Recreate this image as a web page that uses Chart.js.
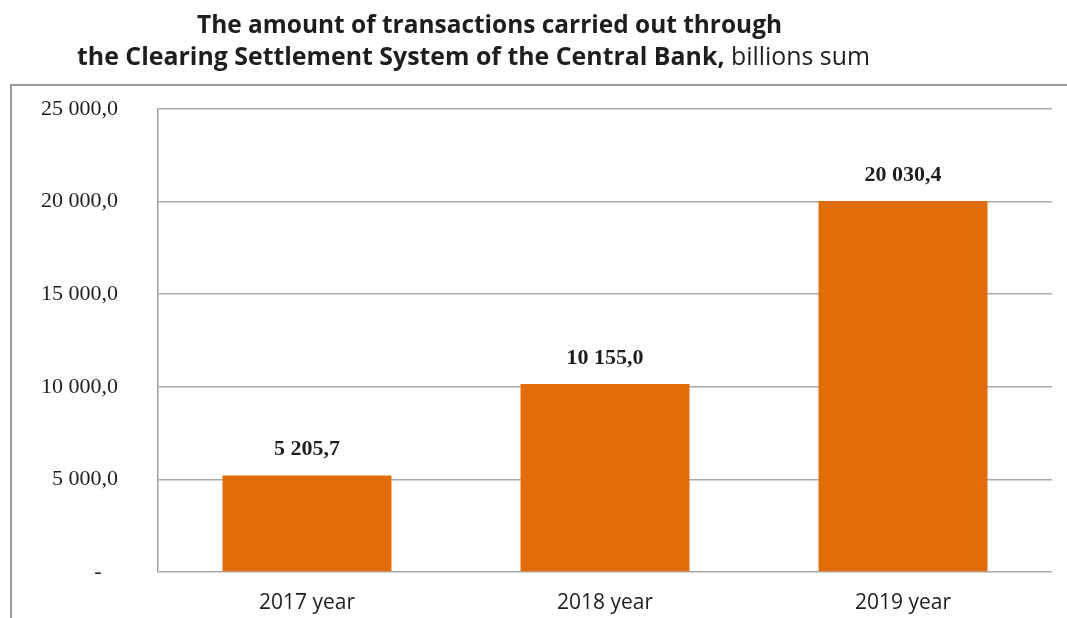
<!DOCTYPE html>
<html>
<head>
<meta charset="utf-8">
<script src="https://cdn.jsdelivr.net/npm/chart.js@4"></script>
<style>
  html, body { margin: 0; padding: 0; background: #fff; }
  #wrap { width: 1067px; height: 618px; }
</style>
</head>
<body>
<div id="wrap"><canvas id="cbank" width="1067" height="618"></canvas></div>
<script>
// CSS transactions, billions sum
const years = ['2017 year', '2018 year', '2019 year'];
const amounts = [5205.7, 10155.0, 20030.4];
const yMin = 0, yMax = 25000, yStep = 5000;

const titleLine1 = 'The amount of transactions carried out through';
const titleLine2Bold = 'the Clearing Settlement System of the Central Bank,';
const titleLine2 = ' billions sum';

const ink = '#1e1e1e';

// 5205.7 -> "5 205,7"
function fmt(v) {
  const parts = v.toFixed(1).split('.');
  return parts[0].replace(/\B(?=(\d{3})+(?!\d))/g, ' ') + ',' + parts[1];
}

// frame round the plot + two-line heading
const frame = {
  id: 'frame',
  beforeDraw(chart) {
    const ctx = chart.ctx;
    ctx.save();
    ctx.fillStyle = '#fff';
    ctx.fillRect(0, 0, chart.width, chart.height);
    ctx.strokeStyle = '#9a9a9a';
    ctx.lineWidth = 2;
    ctx.strokeRect(11, 85, chart.width + 50, chart.height + 50);

    ctx.fillStyle = ink;
    ctx.textBaseline = 'alphabetic';
    ctx.textAlign = 'left';

    // line 1, squeezed to width
    ctx.font = 'bold 25px "Open Sans"';
    let w = ctx.measureText(titleLine1).width;
    ctx.save();
    ctx.translate(197, 33);
    ctx.scale(585 / w, 1);
    ctx.fillText(titleLine1, 0, 0);
    ctx.restore();

    // line 2, bold part + normal part
    ctx.font = 'bold 25px "Open Sans"';
    const wb = ctx.measureText(titleLine2Bold).width;
    ctx.font = '25px "Open Sans"';
    const wn = ctx.measureText(titleLine2).width;
    const sx = 793 / (wb + wn);
    ctx.save();
    ctx.translate(77, 65);
    ctx.scale(sx, 1);
    ctx.font = 'bold 25px "Open Sans"';
    ctx.fillText(titleLine2Bold, 0, 0);
    ctx.font = '25px "Open Sans"';
    ctx.fillText(titleLine2, wb, 0);
    ctx.restore();
    ctx.restore();
  }
};

// value above each bar
const barValues = {
  id: 'barValues',
  afterDatasetsDraw(chart) {
    const ctx = chart.ctx;
    const meta = chart.getDatasetMeta(0);
    ctx.save();
    ctx.font = 'bold 22px "Liberation Serif"';
    ctx.fillStyle = ink;
    ctx.textAlign = 'center';
    ctx.textBaseline = 'middle';
    meta.data.forEach((bar, i) => {
      ctx.fillText(fmt(amounts[i]), bar.x, bar.y - 26);
    });
    ctx.restore();
  }
};

new Chart(document.getElementById('cbank'), {
  type: 'bar',
  data: {
    labels: years,
    datasets: [{
      data: amounts,
      backgroundColor: '#E36C0A',
      borderWidth: 0,
      barPercentage: 0.567,
      categoryPercentage: 1
    }]
  },
  options: {
    responsive: false,
    animation: false,
    layout: { padding: { top: 109, right: 15, left: 0, bottom: 0 } },
    plugins: {
      legend: { display: false },
      tooltip: { enabled: false }
    },
    scales: {
      x: {
        grid: { display: false, drawTicks: false },
        border: { display: false },
        ticks: {
          padding: 18,
          color: ink,
          font: { family: '"Open Sans"', size: 21 }
        },
        afterFit(scale) { scale.height = 46; }
      },
      y: {
        min: yMin,
        max: yMax,
        // invisible tick marks keep the labels away from the axis line
        grid: { color: '#a9a9a9', lineWidth: 1.5, drawTicks: true, tickLength: 32, tickColor: 'rgba(0,0,0,0)' },
        border: { display: true, color: '#a0a0a0', width: 1.5 },
        ticks: {
          stepSize: yStep,
          padding: 8,
          color: ink,
          font: { family: '"Liberation Serif"', size: 22 },
          callback: (v) => v === 0 ? '-   ' : fmt(v)
        },
        afterFit(scale) { scale.width = 158; }
      }
    }
  },
  plugins: [frame, barValues]
});
</script>
</body>
</html>
